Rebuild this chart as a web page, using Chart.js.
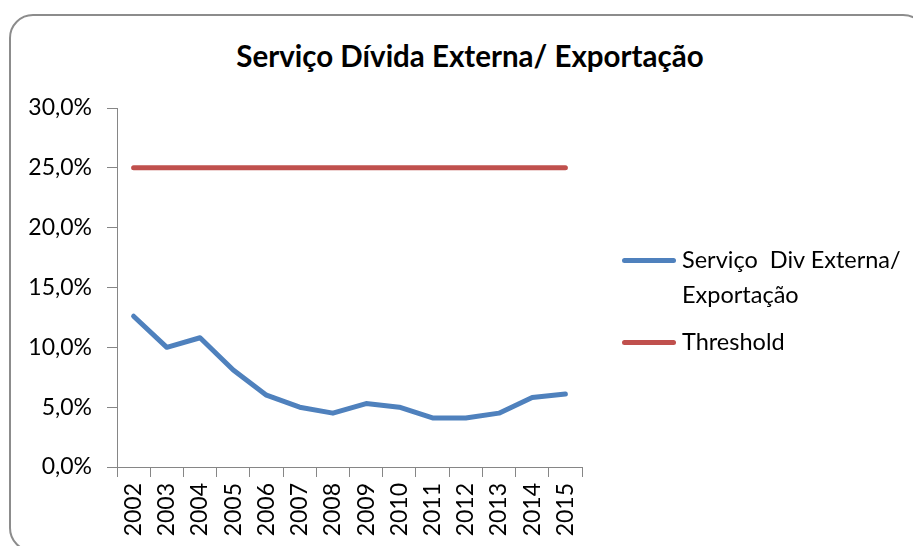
<!DOCTYPE html>
<html>
<head>
<meta charset="utf-8">
<script src="https://cdn.jsdelivr.net/npm/chart.js@4"></script>
<style>
  body { margin: 0; background: #fff; font-family: Lato, sans-serif; }
  #wrap { position: relative; width: 913px; height: 546px; overflow: hidden; }
  #frame { position: absolute; left: 9px; top: 14px; width: 914px; height: 534px;
    border: 2px solid #8c8c8c; border-radius: 24px; }
  #title { position: absolute; left: 0; width: 940px; top: 38px; text-align: center;
    font-weight: bold; font-size: 29.5px; color: #000; }
  canvas { position: absolute; left: 0; top: 0; }
  #legend { position: absolute; left: 622px; top: 242px; font-size: 23.5px; color: #000; }
  .item { position: relative; padding-left: 60px; line-height: 35px; margin-bottom: 12px; white-space: pre; }
  .swatch { position: absolute; left: 0; top: 16px; width: 54px; height: 5px; border-radius: 3px; }
</style>
</head>
<body>
<div id="wrap">
  <div id="frame"></div>
  <div id="title">Serviço Dívida Externa/ Exportação</div>
  <canvas id="chart" width="913" height="546"></canvas>
  <div id="legend"></div>
</div>
<script>
const years = ["2002", "2003", "2004", "2005", "2006", "2007", "2008",
  "2009", "2010", "2011", "2012", "2013", "2014", "2015"];
const debtService = [12.6, 10.0, 10.8, 8.1, 6.0, 5.0, 4.5, 5.3, 5.0, 4.1, 4.1, 4.5, 5.8, 6.1];
const threshold = [25, 25, 25, 25, 25, 25, 25, 25, 25, 25, 25, 25, 25, 25];
const seriesNames = ["Serviço  Div Externa/\nExportação", "Threshold"];
const seriesColors = ["#4f81bd", "#c0504d"];
const yTicks = [0, 5, 10, 15, 20, 25, 30];

const axisColor = "#868686";

const chart = new Chart(document.getElementById("chart"), {
  type: "line",
  data: {
    labels: years,
    datasets: [
      { label: seriesNames[0], data: debtService, borderColor: seriesColors[0] },
      { label: seriesNames[1], data: threshold, borderColor: seriesColors[1] },
    ].map((d) => ({
      ...d,
      borderWidth: 5,
      pointRadius: 0,
      tension: 0,
      borderCapStyle: "round",
      borderJoinStyle: "round",
    })),
  },
  options: {
    responsive: false,
    animation: false,
    layout: { padding: { left: 0, top: 108, right: 331, bottom: 0 } },
    plugins: { legend: { display: false }, title: { display: false }, tooltip: { enabled: false } },
    scales: {
      x: {
        offset: true,
        grid: { drawOnChartArea: false, offset: true, tickLength: 10, color: axisColor },
        border: { color: axisColor },
        ticks: {
          maxRotation: 90, minRotation: 90, padding: 6, color: "#000",
          font: { family: "Lato", size: 23 },
        },
        afterFit: (s) => { s.height = 79; },
      },
      y: {
        min: 0, max: 30,
        afterBuildTicks: (s) => { s.ticks = yTicks.map((v) => ({ value: v })); },
        grid: { drawOnChartArea: false, tickLength: 10, color: axisColor },
        border: { color: axisColor },
        ticks: {
          padding: 15, color: "#000",
          font: { family: "Lato", size: 23 },
          callback: (v) => v.toFixed(1).replace(".", ",") + "%",
        },
        afterFit: (s) => { s.width = 117; },
      },
    },
  },
});

const legend = document.getElementById("legend");
chart.data.datasets.forEach((d) => {
  const item = document.createElement("div");
  item.className = "item";
  item.textContent = d.label;
  const sw = document.createElement("span");
  sw.className = "swatch";
  sw.style.background = d.borderColor;
  item.appendChild(sw);
  legend.appendChild(item);
});
</script>
</body>
</html>
